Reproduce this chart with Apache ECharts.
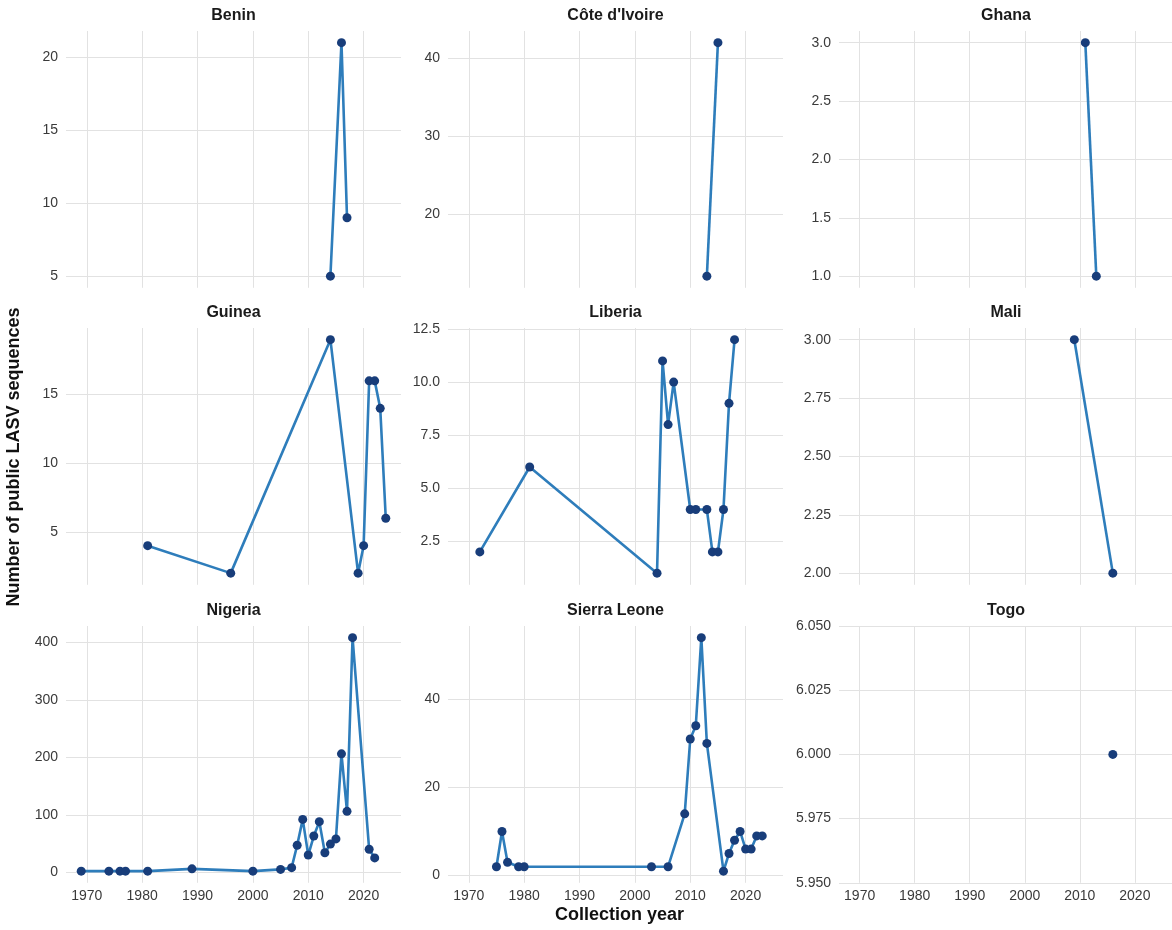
<!DOCTYPE html>
<html><head><meta charset="utf-8">
<script src="https://cdn.jsdelivr.net/npm/echarts@6/dist/echarts.min.js"></script>
<style>html,body{margin:0;padding:0;background:#fff}#c{width:1172px;height:930px}</style>
</head><body><div id="c"></div>
<script>
// ---------- data ----------
const countries = ["Benin", "Côte d'Ivoire", "Ghana", "Guinea", "Liberia", "Mali", "Nigeria", "Sierra Leone", "Togo"];

const beninYears = [2014, 2016, 2017];
const beninCounts = [5, 21, 9];
const coteYears = [2013, 2015];
const coteCounts = [12, 42];
const ghanaYears = [2011, 2013];
const ghanaCounts = [3, 1];
const guineaYears = [1981, 1996, 2014, 2019, 2020, 2021, 2022, 2023, 2024];
const guineaCounts = [4, 2, 19, 2, 4, 16, 16, 14, 6];
const liberiaYears = [1972, 1981, 2004, 2005, 2006, 2007, 2010, 2011, 2013, 2014, 2015, 2016, 2017, 2018];
const liberiaCounts = [2, 6, 1, 11, 8, 10, 4, 4, 4, 2, 2, 4, 9, 12];
const maliYears = [2009, 2016];
const maliCounts = [3, 2];
const nigeriaYears = [1969, 1974, 1976, 1977, 1981, 1989, 2000, 2005, 2007, 2008, 2009, 2010, 2011, 2012, 2013, 2014, 2015, 2016, 2017, 2018, 2021, 2022];
const nigeriaCounts = [2, 2, 2, 2, 2, 6, 2, 5, 8, 47, 92, 30, 63, 88, 34, 49, 58, 206, 106, 408, 40, 25];
const sierraYears = [1975, 1976, 1977, 1979, 1980, 2003, 2006, 2009, 2010, 2011, 2012, 2013, 2016, 2017, 2018, 2019, 2020, 2021, 2022, 2023];
const sierraCounts = [2, 10, 3, 2, 2, 2, 2, 14, 31, 34, 54, 30, 1, 5, 8, 10, 6, 6, 9, 9];
const togoYears = [2016];
const togoCounts = [6];

// tick labels
const xTicks = [1970, 1980, 1990, 2000, 2010, 2020];
const beninYTicks = [5, 10, 15, 20];
const coteYTicks = [20, 30, 40];
const ghanaYTicks = [1.0, 1.5, 2.0, 2.5, 3.0];
const guineaYTicks = [5, 10, 15];
const liberiaYTicks = [2.5, 5.0, 7.5, 10.0, 12.5];
const maliYTicks = [2.00, 2.25, 2.50, 2.75, 3.00];
const nigeriaYTicks = [0, 100, 200, 300, 400];
const sierraYTicks = [0, 20, 40];
const togoYTicks = [5.950, 5.975, 6.000, 6.025, 6.050];
const yTickDecimals = [0, 0, 1, 0, 1, 2, 0, 0, 3];

const xTitle = "Collection year";
const yTitle = "Number of public LASV sequences";

// ---------- build ----------
const panelYears = [beninYears, coteYears, ghanaYears, guineaYears, liberiaYears, maliYears, nigeriaYears, sierraYears, togoYears];
const panelCounts = [beninCounts, coteCounts, ghanaCounts, guineaCounts, liberiaCounts, maliCounts, nigeriaCounts, sierraCounts, togoCounts];
const panelYTicks = [beninYTicks, coteYTicks, ghanaYTicks, guineaYTicks, liberiaYTicks, maliYTicks, nigeriaYTicks, sierraYTicks, togoYTicks];

const allYears = [].concat(...panelYears);
const xLo = Math.min(...allYears), xHi = Math.max(...allYears);
const xPad = (xHi - xLo) * 0.05;
const xMin = xLo - xPad, xMax = xHi + xPad;

const colLeft = [66, 448, 839];
const colWidth = [335, 335, 334];
const rowTop = [31, 328, 626];
const rowHeight = 256.8;

const font = "'Liberation Sans', Arial, Helvetica, sans-serif";
const tickColor = '#3a3a3a';
const gridColor = '#e2e2e2';

const grids = [], xAxes = [], yAxes = [], series = [], titles = [];
countries.forEach((name, i) => {
  const r = Math.floor(i / 3), c = i % 3;
  grids.push({left: colLeft[c], top: rowTop[r], width: colWidth[c], height: rowHeight, containLabel: false});
  const cs = panelCounts[i];
  let lo = Math.min(...cs), hi = Math.max(...cs);
  let yMin, yMax;
  if (hi === lo) { yMin = lo - 0.05; yMax = hi + 0.05; }
  else { const p = (hi - lo) * 0.05; yMin = lo - p; yMax = hi + p; }
  const dec = yTickDecimals[i];
  xAxes.push({
    type: 'value', gridIndex: i, min: xMin, max: xMax,
    axisLine: {show: false},
    axisTick: {show: false, customValues: xTicks},
    axisLabel: {show: r === 2, customValues: xTicks, fontSize: 14, color: tickColor, fontFamily: font, margin: 6,
      formatter: v => String(v)},
    splitLine: {show: true, lineStyle: {color: gridColor, width: 1}}
  });
  yAxes.push({
    type: 'value', gridIndex: i, min: yMin, max: yMax,
    axisLine: {show: false},
    axisTick: {show: false, customValues: panelYTicks[i]},
    axisLabel: {show: true, customValues: panelYTicks[i], fontSize: 14, color: tickColor, fontFamily: font, margin: 8,
      formatter: v => Number(v).toFixed(dec)},
    splitLine: {show: true, lineStyle: {color: gridColor, width: 1}}
  });
  series.push({
    type: 'line', xAxisIndex: i, yAxisIndex: i,
    data: panelYears[i].map((yr, k) => [yr, cs[k]]),
    symbol: 'circle', symbolSize: 9, showSymbol: true, showAllSymbol: true,
    lineStyle: {color: '#2e7dbb', width: 2.6},
    itemStyle: {color: '#183d7a', borderWidth: 0},
    clip: false, animation: false, z: 3
  });
  titles.push({
    text: name, left: colLeft[c] + colWidth[c] / 2, top: rowTop[r] - 15,
    textAlign: 'center', textVerticalAlign: 'middle', padding: 0,
    textStyle: {fontSize: 16, fontWeight: 'bold', color: '#1a1a1a', fontFamily: font}
  });
});

const chart = echarts.init(document.getElementById('c'), null, {renderer: 'canvas'});
chart.setOption({
  backgroundColor: '#ffffff',
  animation: false,
  title: titles,
  grid: grids,
  xAxis: xAxes,
  yAxis: yAxes,
  series: series,
  graphic: [
    {type: 'text', x: 619.5, y: 915, style: {text: xTitle, fontSize: 18, fontWeight: 'bold', fill: '#111', fontFamily: font, textAlign: 'center', textVerticalAlign: 'middle'}},
    {type: 'text', x: 14, y: 457, rotation: Math.PI / 2, style: {text: yTitle, fontSize: 18, fontWeight: 'bold', fill: '#111', fontFamily: font, textAlign: 'center', textVerticalAlign: 'middle'}}
  ]
});
</script>
</body></html>
